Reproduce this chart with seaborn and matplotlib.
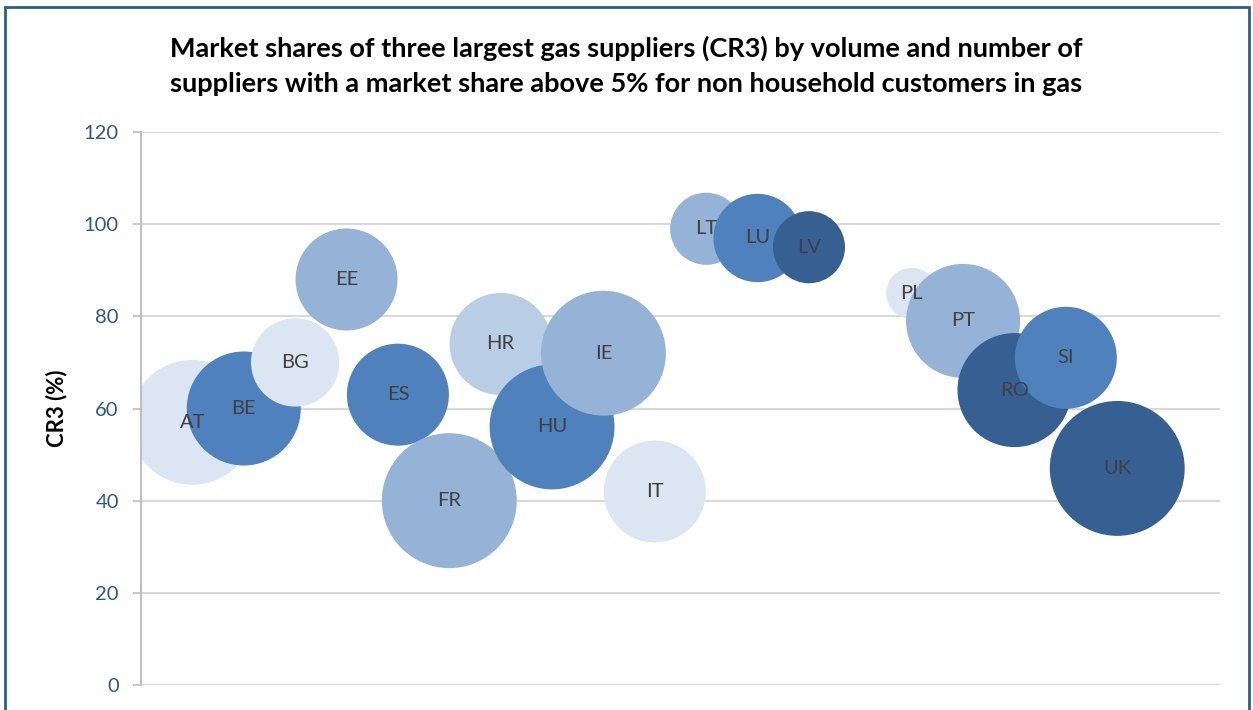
import numpy as np
import pandas as pd
import matplotlib
matplotlib.use('Agg')
import matplotlib.pyplot as plt
import seaborn as sns
from matplotlib.patches import Rectangle

# ============================================================
# DATA
# ============================================================
countries = ['AT', 'BE', 'BG', 'EE', 'ES', 'FR', 'HR', 'HU', 'IE', 'IT',
             'LT', 'LU', 'LV', 'NL', 'PL', 'PT', 'RO', 'SI', 'UK']
cr3 = [57, 60, 70, 88, 63, 40, 74, 56, 72, 42,
       99, 97, 95, np.nan, 85, 79, 64, 71, 47]
n_suppliers = [6, 5, 3, 4, 4, 7, 4, 6, 6, 4,
               2, 3, 2, np.nan, 1, 5, 5, 4, 7]
y_ticks = [0, 20, 40, 60, 80, 100, 120]

title = ('Market shares of three largest gas suppliers (CR3) by volume and number of\n'
         'suppliers with a market share above 5% for non household customers in gas')
y_label = 'CR3 (%)'

# warna per negara (5 gradasi biru)
c_vlight, c_light, c_mid, c_blue, c_dark = '#DCE6F2', '#B9CDE5', '#95B3D7', '#4F81BD', '#366092'
warna = {
    'AT': c_vlight, 'BE': c_blue, 'BG': c_vlight, 'EE': c_mid, 'ES': c_blue,
    'FR': c_mid, 'HR': c_light, 'HU': c_blue, 'IE': c_mid, 'IT': c_vlight,
    'LT': c_mid, 'LU': c_blue, 'LV': c_dark, 'NL': c_mid, 'PL': c_vlight,
    'PT': c_mid, 'RO': c_dark, 'SI': c_blue, 'UK': c_dark,
}

df = pd.DataFrame({'country': countries, 'cr3': cr3, 'n': n_suppliers})
df['pos'] = np.arange(1, len(df) + 1)
df = df.dropna()

# ============================================================
# PLOT
# ============================================================
sns.set_style('white')
plt.rcParams['font.family'] = ['Lato', 'DejaVu Sans']

fig = plt.figure(figsize=(12.53, 7.10), dpi=100)
ax = fig.add_axes([141 / 1253, 1 - 685 / 710, (1220 - 141) / 1253, (685 - 132) / 710])

unit = 1348  # points^2 per supplier
sns.scatterplot(data=df, x='pos', y='cr3', hue='country', palette=warna,
                size='n', sizes=(unit * 1, unit * 7), size_norm=(1, 7),
                linewidth=0, alpha=1, legend=False, ax=ax, zorder=3)
for coll in ax.collections:
    coll.set_clip_on(True)
    coll.set_clip_path(ax.patch)

for _, r in df.iterrows():
    ax.text(r['pos'], r['cr3'], r['country'], ha='center', va='center',
            fontsize=14.5, color='#404040', zorder=4)

ax.set_xlim(0, 21)
ax.set_ylim(0, 120)
ax.set_yticks(y_ticks)
ax.set_xticks([])
ax.grid(axis='y', color='#D9D9D9', linewidth=1.5, zorder=0)
ax.set_axisbelow(True)

for s in ['top', 'right', 'bottom']:
    ax.spines[s].set_visible(False)
ax.spines['left'].set_color('#BFBFBF')
ax.spines['left'].set_linewidth(1.5)
ax.spines['left'].set_zorder(5)

ax.tick_params(axis='y', left=True, length=6, width=1.2, color='#BFBFBF',
               pad=10, labelsize=14.5, labelcolor='#2A5A8C')
ax.set_xlabel('')
ax.set_ylabel(y_label, fontsize=16, fontweight='bold', color='black', labelpad=12)

fig.text(0.5, 1 - 65.5 / 710, title, ha='center', va='center', fontsize=19.5,
         fontweight='bold', color='black', linespacing=1.55)

# bingkai luar
fig.patches.append(Rectangle((5 / 1253, -0.05), (1249 - 5) / 1253, 1.05 - 7 / 710,
                             transform=fig.transFigure, fill=False,
                             edgecolor='#2C5D8F', linewidth=2))

plt.savefig('out.png', dpi=100)
plt.close()
